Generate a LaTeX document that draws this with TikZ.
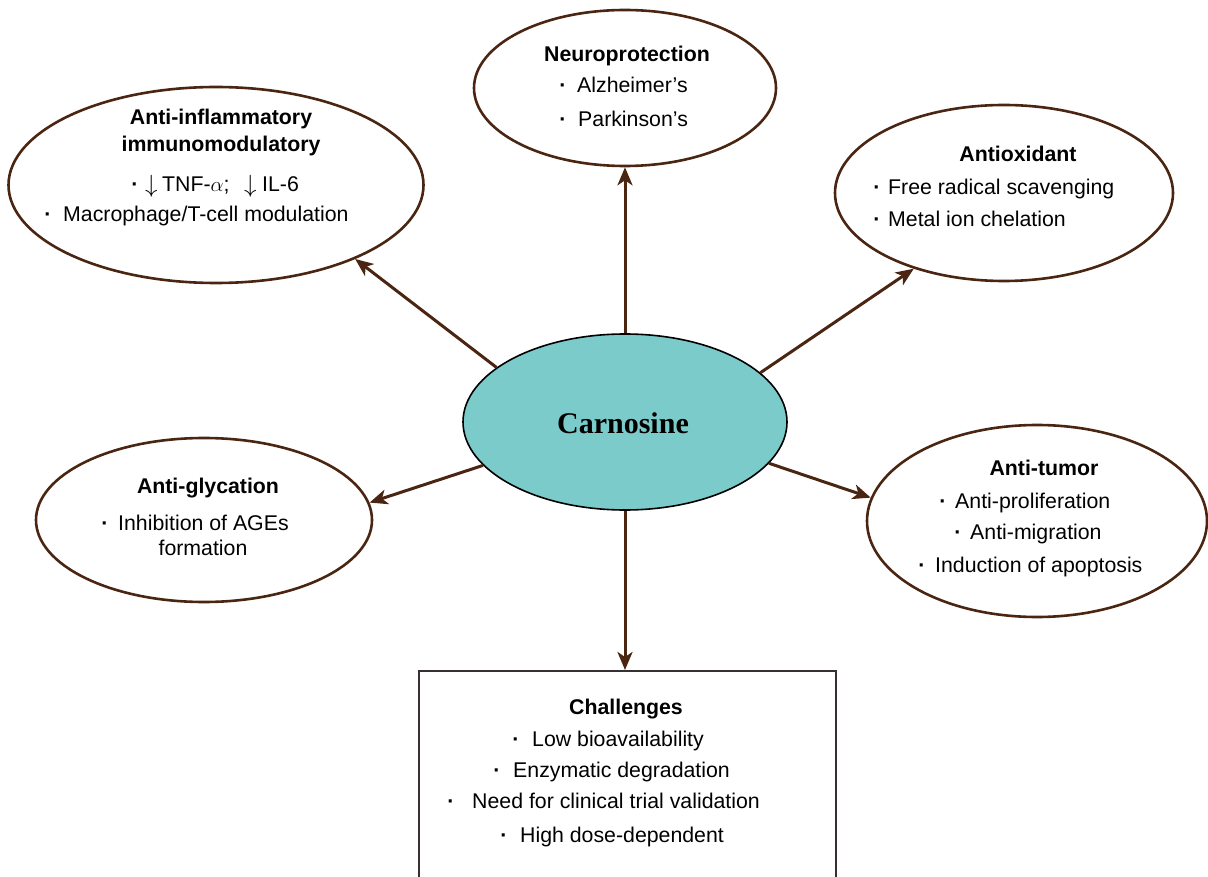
\documentclass[tikz,border=0pt]{standalone}
\usepackage{fontspec}
\setmainfont{Liberation Sans}
\newfontfamily\serifb{Liberation Serif}
\usetikzlibrary{arrows.meta,shapes.geometric}
\definecolor{brn}{RGB}{74,38,18}
\definecolor{tealc}{RGB}{123,203,203}
\definecolor{boxc}{RGB}{55,48,48}
\tikzset{
 oval/.style={ellipse, draw=brn, line width=2.6pt, inner sep=0pt},
 arr/.style={draw=brn, line width=3pt, -{Stealth[length=18pt,width=15pt,inset=5pt]}},
 ttl/.style={font=\fontsize{21.3}{24}\selectfont\bfseries, anchor=base, inner sep=0pt},
 txt/.style={font=\fontsize{21.3}{24}\selectfont, anchor=base west, inner sep=0pt},
 bul/.style={font=\fontsize{21.3}{24}\selectfont\bfseries, anchor=base, inner sep=0pt},
 dar/.style={font=\fontsize{27}{28}\selectfont, anchor=base west, inner sep=0pt},
}
\newcommand{\bline}[5]{%
 \node[bul] (#1b) at (#2,#4) {·};
 \node[txt] (#1) at (#3,#4) {#5};}
\begin{document}
\begin{tikzpicture}[x=1pt,y=-1pt]
\useasboundingbox (0,0) rectangle (1208,877);
% outer ovals
\node[oval, minimum width=302pt, minimum height=156pt] (n) at (625,88) {};
\node[oval, minimum width=415pt, minimum height=196pt] (ai) at (216,185) {};
\node[oval, minimum width=338pt, minimum height=176pt] (ao) at (1004,193) {};
\node[oval, minimum width=336pt, minimum height=164pt] (ag) at (204,520) {};
\node[oval, minimum width=340pt, minimum height=192pt] (at) at (1037,521) {};
\node[draw=boxc, line width=2.2pt, minimum width=417pt, minimum height=225pt, anchor=north, inner sep=0pt] (ch) at (627.5,670) {};
% centre
\node[ellipse, draw=black, fill=tealc, line width=1.6pt, minimum width=324pt, minimum height=176pt, inner sep=0pt] (c) at (625,422) {};
\node[anchor=base, inner sep=0pt, font=\serifb\fontsize{30}{34}\selectfont\bfseries] (ct) at (623,433) {Carnosine};
% arrows
\draw[arr] (c.north) -- (c.north |- n.south);
\draw[arr] (c.157.7) -- (ai.332);
\draw[arr] (c.20) -- (ao.220);
\draw[arr] (c.197.2) -- (ag.6.7);
\draw[arr] (c.344) -- (at.172.3);
\draw[arr] (c.south) -- (c.south |- ch.north);
% neuroprotection
\node[ttl] (nt) at (627,62) {Neuroprotection};
\bline{n1}{563}{577}{93}{Alzheimer’s}
\bline{n2}{563}{578}{127}{Parkinson’s}
% anti-inflammatory
\node[ttl] (ait1) at (221,125) {Anti-inflammatory};
\node[ttl] (ait2) at (221,152) {immunomodulatory};
\node[bul] (a1b) at (135,192) {·};
\node[dar] (a1a) at (145,193) {$\downarrow$};
\node[txt] (a1c) at (162,192) {TNF-$\alpha$;};
\node[dar] (a1d) at (244,193) {$\downarrow$};
\node[txt] (a1e) at (262,192) {IL-6};
\bline{a2}{48}{63}{222}{Macrophage/T-cell modulation}
% antioxidant
\node[ttl] (aot) at (1018,162) {Antioxidant};
\bline{o1}{877}{888}{195}{Free radical scavenging}
\bline{o2}{877}{888}{227}{Metal ion chelation}
% anti-glycation
\node[ttl] (agt) at (208,493) {Anti-glycation};
\bline{g1}{105}{118}{530}{Inhibition of AGEs}
\node[txt, anchor=base] (g2) at (203,555) {formation};
% anti-tumor
\node[ttl] (att) at (1044,475) {Anti-tumor};
\bline{t1}{943}{955}{508}{Anti-proliferation}
\bline{t2}{958}{970}{539}{Anti-migration}
\bline{t3}{922}{935}{572}{Induction of apoptosis}
% challenges
\node[ttl] (cht) at (626,714) {Challenges};
\bline{h1}{516}{532}{746}{Low bioavailability}
\bline{h2}{497}{513}{777}{Enzymatic degradation}
\bline{h3}{451}{472}{808}{Need for clinical trial validation}
\bline{h4}{504}{520}{842}{High dose-dependent}
\end{tikzpicture}
\end{document}
